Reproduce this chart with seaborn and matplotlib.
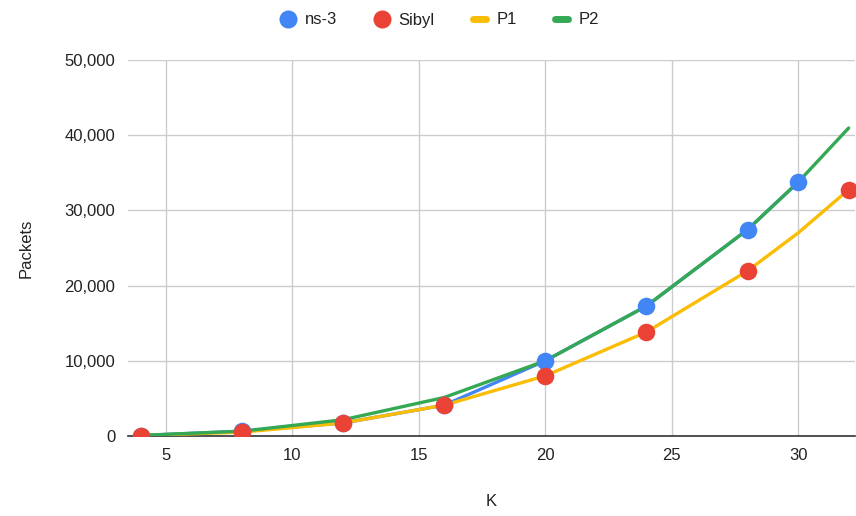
import matplotlib
matplotlib.use("Agg")
import matplotlib.pyplot as plt
from matplotlib.lines import Line2D
from matplotlib.ticker import FuncFormatter, MultipleLocator
import pandas as pd
import seaborn as sns

# Packet counts versus K
k_ns3 = [4, 8, 12, 16, 20, 24, 28, 30]
ns3 = [64, 640, 1728, 4096, 10000, 17280, 27440, 33750]

k_sibyl = [4, 8, 12, 16, 20, 24, 28, 32]
sibyl = [64, 512, 1728, 4096, 8000, 13824, 21952, 32768]

k_p1 = [4, 8, 12, 16, 20, 24, 28, 30, 32]
p1 = [64, 512, 1728, 4096, 8000, 13824, 21952, 27000, 32768]

k_p2 = [4, 8, 12, 16, 20, 24, 28, 30, 32]
p2 = [80, 640, 2160, 5120, 10000, 17280, 27440, 33750, 40960]

series_names = ["ns-3", "Sibyl", "P1", "P2"]
colors = {"ns-3": "#4285F4", "Sibyl": "#EA4335", "P1": "#FBBC04", "P2": "#34A853"}

frames = {
    "ns-3": pd.DataFrame({"K": k_ns3, "Packets": ns3}),
    "Sibyl": pd.DataFrame({"K": k_sibyl, "Packets": sibyl}),
    "P1": pd.DataFrame({"K": k_p1, "Packets": p1}),
    "P2": pd.DataFrame({"K": k_p2, "Packets": p2}),
}

sns.set_style("white")
plt.rcParams["font.family"] = ["Liberation Sans", "DejaVu Sans"]

fig = plt.figure(figsize=(8.56, 5.16), dpi=100)
ax = fig.add_axes([128 / 856, 1 - 436 / 516, (855 - 128) / 856, (436 - 60) / 516])

# connecting lines (Sibyl is shown as points only)
for i, name in enumerate(["ns-3", "P1", "P2"]):
    sns.lineplot(data=frames[name], x="K", y="Packets", ax=ax, color=colors[name],
                 linewidth=2.4, zorder=2 + i, legend=False)

# point markers drawn above all lines
for name in ["ns-3", "Sibyl"]:
    sns.scatterplot(data=frames[name], x="K", y="Packets", ax=ax, color=colors[name],
                    s=160, linewidth=0, zorder=10, legend=False)

ax.set_xlim(3.5, 32.25)
ax.set_ylim(0, 50000)
ax.xaxis.set_major_locator(MultipleLocator(5))
ax.yaxis.set_major_locator(MultipleLocator(10000))
ax.yaxis.set_major_formatter(FuncFormatter(lambda v, _: f"{int(v):,}"))

ax.grid(True, color="#cccccc", linewidth=1)
ax.set_axisbelow(True)
for side in ["top", "right", "left"]:
    ax.spines[side].set_visible(False)
ax.spines["bottom"].set_color("#333333")
ax.spines["bottom"].set_linewidth(1.2)
ax.spines["bottom"].set_zorder(1)

ax.tick_params(axis="both", length=0, labelsize=12, colors="#222222")
ax.tick_params(axis="y", pad=9)
ax.tick_params(axis="x", pad=9)

ax.set_xlabel("K", fontsize=12, color="#222222", labelpad=22)
ax.set_ylabel("Packets", fontsize=12, color="#222222", labelpad=22)

handles = [
    Line2D([], [], marker="o", linestyle="none", markersize=13,
           markerfacecolor=colors["ns-3"], markeredgewidth=0),
    Line2D([], [], marker="o", linestyle="none", markersize=13,
           markerfacecolor=colors["Sibyl"], markeredgewidth=0),
    Line2D([], [], color=colors["P1"], linewidth=5),
    Line2D([], [], color=colors["P2"], linewidth=5),
]
fig.legend(handles, series_names, loc="center", bbox_to_anchor=(440 / 856, 1 - 20 / 516),
           ncol=4, frameon=False, fontsize=12, handlelength=0.8, handletextpad=0.6,
           columnspacing=2.3, labelcolor="#222222")

fig.savefig("out.png", dpi=100)
